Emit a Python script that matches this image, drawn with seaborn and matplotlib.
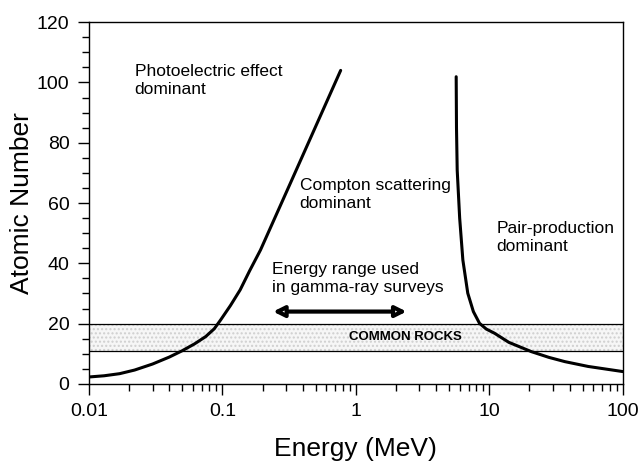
import matplotlib
matplotlib.use("Agg")
import matplotlib.pyplot as plt
import seaborn as sns
import pandas as pd
from matplotlib.ticker import MultipleLocator, LogLocator, NullFormatter, FuncFormatter

# photoelectric / compton boundary
photo_energy = [0.01, 0.013, 0.017, 0.022, 0.03, 0.04, 0.05, 0.062, 0.075, 0.087, 0.097, 0.115, 0.136, 0.16, 0.193, 0.325, 0.77]
photo_z = [2.3, 2.7, 3.4, 4.6, 6.6, 8.9, 11.0, 13.3, 15.7, 18.3, 21.2, 26.0, 31.2, 37.5, 44.4, 66.8, 104.0]

# compton / pair-production boundary
pair_energy = [5.65, 5.68, 5.75, 6.0, 6.34, 6.9, 7.6, 8.45, 9.5, 10.96, 14.0, 20.7, 28.0, 36.8, 55.0, 100.0]
pair_z = [101.9, 85.0, 70.9, 55.0, 41.1, 30.1, 24.0, 20.1, 18.2, 16.8, 13.8, 10.7, 8.8, 7.4, 5.8, 4.1]

rock_band = [11, 20]
survey_range = [0.24, 2.4]

curves = pd.concat([
    pd.DataFrame({"energy": photo_energy, "z": photo_z, "boundary": "photo"}),
    pd.DataFrame({"energy": pair_energy, "z": pair_z, "boundary": "pair"}),
])

sns.set_style("ticks")
plt.rcParams["font.family"] = ["Liberation Sans", "DejaVu Sans"]
plt.rcParams["text.color"] = "black"
plt.rcParams["axes.labelcolor"] = "black"
plt.rcParams["xtick.color"] = "black"
plt.rcParams["ytick.color"] = "black"

fig = plt.figure(figsize=(6.44, 4.62), dpi=100)
ax = fig.add_axes([0.138, 0.169, 0.829, 0.783])

# common rocks band
ax.fill_between([0.01, 100], rock_band[0], rock_band[1], facecolor="#f6f6f6",
                edgecolor="#cfcfcf", hatch="....", linewidth=0)
ax.axhline(rock_band[0], color="black", lw=0.9)
ax.axhline(rock_band[1], color="black", lw=0.9)

sns.lineplot(data=curves, x="energy", y="z", units="boundary", estimator=None,
             sort=False, color="black", lw=2.2, ax=ax)

ax.annotate("", xy=(survey_range[1], 24), xytext=(survey_range[0], 24),
            arrowprops=dict(arrowstyle="<|-|>", lw=3, fc="white", ec="black",
                            mutation_scale=16, shrinkA=0, shrinkB=0))

txt = dict(fontsize=12.5, va="center", ha="left", linespacing=1.25)
ax.text(0.022, 100.5, "Photoelectric effect\ndominant", **txt)
ax.text(0.38, 62.8, "Compton scattering\ndominant", **txt)
ax.text(11.3, 48.5, "Pair-production\ndominant", **txt)
ax.text(0.237, 35.0, "Energy range used\nin gamma-ray surveys", **txt)
ax.text(0.885, 15.6, "COMMON ROCKS", fontsize=9.5, fontweight="bold", va="center", ha="left")

ax.set_xscale("log")
ax.set_xlim(0.01, 100)
ax.set_ylim(0, 120)
ax.xaxis.set_major_formatter(FuncFormatter(lambda v, p: f"{v:g}"))
ax.xaxis.set_minor_locator(LogLocator(base=10, subs=range(2, 10), numticks=20))
ax.xaxis.set_minor_formatter(NullFormatter())
ax.yaxis.set_major_locator(MultipleLocator(20))
ax.yaxis.set_minor_locator(MultipleLocator(5))

ax.tick_params(which="major", length=8, width=1, labelsize=14, direction="out", color="black", pad=6)
ax.tick_params(which="minor", length=5, width=1, direction="out", color="black")
for s in ax.spines.values():
    s.set_visible(True)
    s.set_color("black")
    s.set_linewidth(1)

ax.set_xlabel("Energy (MeV)", fontsize=19, labelpad=12)
ax.set_ylabel("Atomic Number", fontsize=19, labelpad=2)

fig.savefig("out.png", dpi=100)
